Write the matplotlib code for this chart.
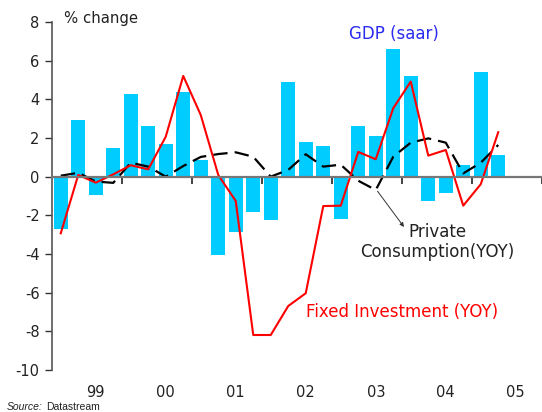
import matplotlib
matplotlib.use("Agg")
import matplotlib.pyplot as plt
import numpy as np

# Quarterly data 1999Q1 .. 2005Q2
quarters = [f"{y}Q{q}" for y in range(1999, 2006) for q in range(1, 5)][:26]
gdp_saar = [-2.72, 2.93, -0.95, 1.48,
            4.28, 2.62, 1.69, 4.38,
            0.86, -4.05, -2.86, -1.83,
            -2.24, 4.91, 1.81, 1.60,
            -2.20, 2.62, 2.10, 6.60,
            5.21, -1.24, -0.83, 0.62,
            5.42, 1.12]
fixed_inv_yoy = [-2.93, 0.09, -0.31, 0.12,
                 0.59, 0.38, 2.07, 5.21,
                 3.19, 0.09, -1.26, -8.19,
                 -8.19, -6.69, -6.03, -1.52,
                 -1.50, 1.28, 0.90, 3.54,
                 4.92, 1.09, 1.38, -1.50,
                 -0.39, 2.30]
private_cons_yoy = [0.05, 0.20, -0.25, -0.32,
                    0.72, 0.52, 0.00, 0.55,
                    1.02, 1.17, 1.26, 1.03,
                    0.00, 0.35, 1.16, 0.52,
                    0.62, -0.21, -0.69, 1.03,
                    1.76, 1.98, 1.76, 0.17,
                    0.72, 1.64]
year_labels = ["99", "00", "01", "02", "03", "04", "05"]
y_ticks = [8, 6, 4, 2, 0, -2, -4, -6, -8, -10]

x = np.arange(len(gdp_saar))

fig = plt.figure(figsize=(5.42, 4.12), dpi=100)
ax = fig.add_axes([52/542, 42/412, 490/542, 348/412])

ax.bar(x, gdp_saar, width=0.8, color="#00CCFF", zorder=1)
ax.plot(x, fixed_inv_yoy, color="#FF0000", lw=1.5, zorder=3)
ax.plot(x, private_cons_yoy, color="black", lw=1.6, dashes=(6.5, 3.2), zorder=2)

ax.set_xlim(-0.5, 27.5)
ax.set_ylim(-10, 8)
ax.set_yticks(y_ticks)
ax.set_yticklabels([str(v) for v in y_ticks])

# spines
for s in ["right", "bottom"]:
    ax.spines[s].set_visible(False)
ax.spines["left"].set_color("#555555")
ax.spines["left"].set_linewidth(1.2)
ax.spines["top"].set_position(("data", 0))
ax.spines["top"].set_color("#777777")
ax.spines["top"].set_linewidth(1.6)
ax.spines["top"].set_zorder(4)

# year labels centred on Q3, year boundary ticks on zero line
ax.set_xticks([2 + 4 * k for k in range(len(year_labels))])
ax.set_xticklabels(year_labels)
ax.set_xticks([3.5 + 4 * k for k in range(len(year_labels))], minor=True)
ax.tick_params(axis="x", which="major", top=False, bottom=True, length=0,
               labelsize=10.5, pad=11, labelcolor="#222222")
ax.tick_params(axis="x", which="minor", top=True, bottom=False, direction="in",
               length=5, width=1.2, color="#222222", labeltop=False)
ax.tick_params(axis="y", which="major", length=5, width=1.0, color="#333333",
               labelsize=10.5, pad=4, labelcolor="#222222")

ax.text(64/542, 1 - 19/412, "% change", transform=fig.transFigure,
        fontsize=10.7, va="center", ha="left", color="#222222")
ax.text(394/542, 1 - 34/412, "GDP (saar)", transform=fig.transFigure,
        fontsize=12, va="center", ha="center", color="#2B2BF0")
ax.text(437/542, 1 - 242/412, "Private\nConsumption(YOY)", transform=fig.transFigure,
        fontsize=12, va="center", ha="center", color="#222222", linespacing=1.2)
ax.text(402/542, 1 - 312/412, "Fixed Investment (YOY)", transform=fig.transFigure,
        fontsize=12, va="center", ha="center", color="#FF0000")
ax.annotate("", xy=(404/542, 1 - 227/412), xytext=(18.1, -0.75),
            xycoords="figure fraction", textcoords="data",
            arrowprops=dict(arrowstyle="-|>", color="#333333", lw=0.7,
                            mutation_scale=6, shrinkA=0, shrinkB=0))

fig.text(7/542, 2/412, "Source:", fontsize=7.5, style="italic",
         family="Liberation Sans", va="baseline", ha="left", color="#222222")
fig.text(46/542, 2/412, "Datastream", fontsize=7.5,
         family="Liberation Sans", va="baseline", ha="left", color="#222222")

fig.savefig("out.png", dpi=100)
